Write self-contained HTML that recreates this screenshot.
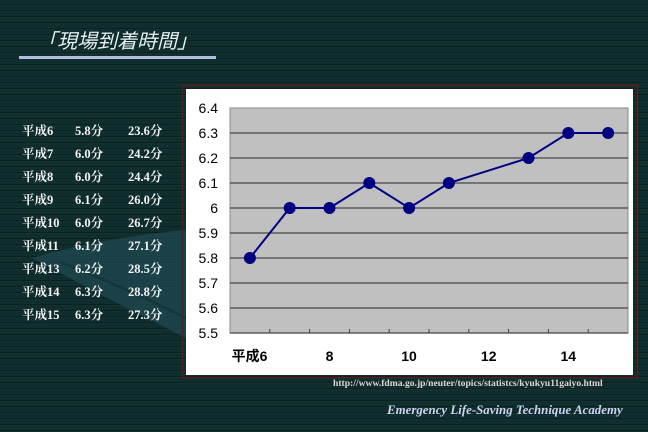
<!DOCTYPE html>
<html><head><meta charset="utf-8">
<style>
html,body{margin:0;padding:0;}
body{width:648px;height:432px;overflow:hidden;background:#0f2d2e;position:relative;font-family:"Liberation Sans","Noto Sans CJK JP",sans-serif;}
.bg{position:absolute;left:0;top:0;width:648px;height:432px;
background:
repeating-linear-gradient(180deg, rgba(0,0,0,0) 0px, rgba(0,0,0,0) 4px, rgba(0,8,8,0.35) 4px, rgba(0,8,8,0.35) 5px, rgba(60,100,100,0.06) 5px, rgba(60,100,100,0.06) 6px),
#112e2f;}
.title{position:absolute;left:37px;top:25px;font-size:20px;font-style:italic;color:#e6eef0;font-family:"Liberation Sans","Noto Sans CJK JP",sans-serif;}
.uline{position:absolute;left:19px;top:56px;width:197px;height:3px;background:#b4bce0;}
.tbl{position:absolute;left:22px;color:#f2f2f2;font-family:"Liberation Serif","Noto Serif CJK SC",serif;font-weight:bold;font-size:12.5px;}
.tbl div{position:absolute;height:23px;line-height:23px;white-space:nowrap;}
.url{position:absolute;left:333px;top:378px;font-family:"Liberation Serif",serif;font-weight:bold;font-size:9.6px;color:#ddd6d0;white-space:nowrap;}
.ac{position:absolute;left:387px;top:403px;font-family:"Liberation Serif",serif;font-weight:bold;font-style:italic;font-size:12.9px;color:#cdd4f2;white-space:nowrap;}
svg{position:absolute;left:0;top:0;}
</style></head><body>
<div class="bg"></div>
<svg width="648" height="432" viewBox="0 0 648 432">
  <path d="M32,258 Q100,238 186,230 L186,338 Q110,300 32,258 Z" fill="#1f4a52" opacity="0.75"/>
  <path d="M60,262 Q120,285 186,318" stroke="#0f2a2e" stroke-width="2.5" fill="none" opacity="0.5"/>
  <rect x="182.5" y="85.5" width="455" height="292" fill="none" stroke="#5a1c1c" stroke-width="1.5"/>
  <rect x="186" y="89" width="447" height="286" fill="#ffffff"/>
  <rect x="230" y="108" width="398" height="225" fill="#c0c0c0" stroke="#8a8a8a" stroke-width="1"/>
  <g stroke="#5a5a5a" stroke-width="1.6">
    <line x1="230" y1="133" x2="628" y2="133"/>
    <line x1="230" y1="158" x2="628" y2="158"/>
    <line x1="230" y1="183" x2="628" y2="183"/>
    <line x1="230" y1="208" x2="628" y2="208"/>
    <line x1="230" y1="233" x2="628" y2="233"/>
    <line x1="230" y1="258" x2="628" y2="258"/>
    <line x1="230" y1="283" x2="628" y2="283"/>
    <line x1="230" y1="308" x2="628" y2="308"/>
  </g>
  <line x1="230" y1="333" x2="628" y2="333" stroke="#444" stroke-width="1.2"/>
  <g stroke="#444" stroke-width="1">
    <line x1="269.8" y1="329" x2="269.8" y2="333"/>
    <line x1="309.6" y1="329" x2="309.6" y2="333"/>
    <line x1="349.4" y1="329" x2="349.4" y2="333"/>
    <line x1="389.2" y1="329" x2="389.2" y2="333"/>
    <line x1="429" y1="329" x2="429" y2="333"/>
    <line x1="468.8" y1="329" x2="468.8" y2="333"/>
    <line x1="508.6" y1="329" x2="508.6" y2="333"/>
    <line x1="548.4" y1="329" x2="548.4" y2="333"/>
    <line x1="588.2" y1="329" x2="588.2" y2="333"/>
  </g>
  <polyline points="249.9,258 289.7,208 329.5,208 369.3,183 409.1,208 448.9,183 528.5,158 568.3,133 608.1,133" fill="none" stroke="#000080" stroke-width="2"/>
  <g fill="#000080">
    <circle cx="249.9" cy="258" r="6"/>
    <circle cx="289.7" cy="208" r="6"/>
    <circle cx="329.5" cy="208" r="6"/>
    <circle cx="369.3" cy="183" r="6"/>
    <circle cx="409.1" cy="208" r="6"/>
    <circle cx="448.9" cy="183" r="6"/>
    <circle cx="528.5" cy="158" r="6"/>
    <circle cx="568.3" cy="133" r="6"/>
    <circle cx="608.1" cy="133" r="6"/>
  </g>
  <g font-family="Liberation Sans, sans-serif" font-size="14" fill="#000" text-anchor="end">
    <text x="218" y="113">6.4</text>
    <text x="218" y="138">6.3</text>
    <text x="218" y="163">6.2</text>
    <text x="218" y="188">6.1</text>
    <text x="218" y="213">6</text>
    <text x="218" y="238">5.9</text>
    <text x="218" y="263">5.8</text>
    <text x="218" y="288">5.7</text>
    <text x="218" y="313">5.6</text>
    <text x="218" y="338">5.5</text>
  </g>
  <g font-family="Liberation Sans, Noto Sans CJK JP, sans-serif" font-size="14" font-weight="bold" fill="#000" text-anchor="middle">
    <text x="249.5" y="361">平成6</text>
    <text x="329.5" y="361">8</text>
    <text x="409" y="361">10</text>
    <text x="488.7" y="361">12</text>
    <text x="568.3" y="361">14</text>
  </g>
</svg>
<div class="title">「現場到着時間」</div>
<div class="uline"></div>
<div class="tbl" style="top:120px;">
  <div style="left:0;top:0">平成6</div><div style="left:53px;top:0">5.8分</div><div style="left:106px;top:0">23.6分</div>
  <div style="left:0;top:23px">平成7</div><div style="left:53px;top:23px">6.0分</div><div style="left:106px;top:23px">24.2分</div>
  <div style="left:0;top:46px">平成8</div><div style="left:53px;top:46px">6.0分</div><div style="left:106px;top:46px">24.4分</div>
  <div style="left:0;top:69px">平成9</div><div style="left:53px;top:69px">6.1分</div><div style="left:106px;top:69px">26.0分</div>
  <div style="left:0;top:92px">平成10</div><div style="left:53px;top:92px">6.0分</div><div style="left:106px;top:92px">26.7分</div>
  <div style="left:0;top:115px">平成11</div><div style="left:53px;top:115px">6.1分</div><div style="left:106px;top:115px">27.1分</div>
  <div style="left:0;top:138px">平成13</div><div style="left:53px;top:138px">6.2分</div><div style="left:106px;top:138px">28.5分</div>
  <div style="left:0;top:161px">平成14</div><div style="left:53px;top:161px">6.3分</div><div style="left:106px;top:161px">28.8分</div>
  <div style="left:0;top:184px">平成15</div><div style="left:53px;top:184px">6.3分</div><div style="left:106px;top:184px">27.3分</div>
</div>
<div class="url">http://www.fdma.go.jp/neuter/topics/statistcs/kyukyu11gaiyo.html</div>
<div class="ac">Emergency Life-Saving Technique Academy</div>
</body></html>
